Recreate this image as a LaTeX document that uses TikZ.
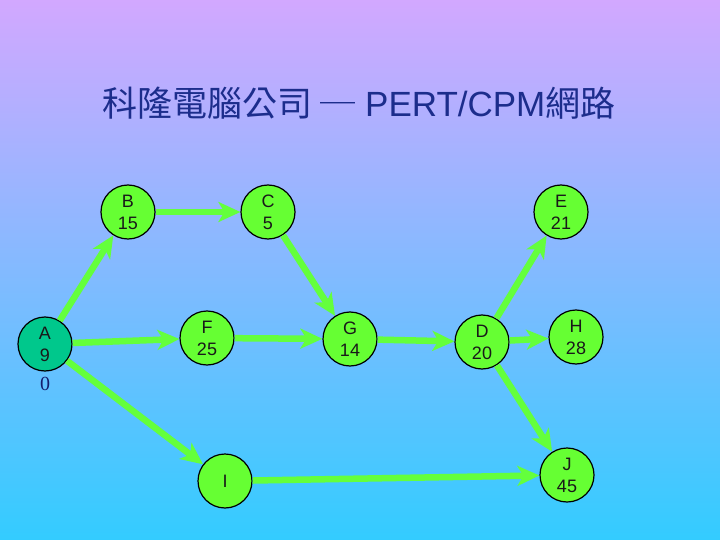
\documentclass[tikz,border=0pt]{standalone}
\usepackage{fontspec}
\setmainfont{Liberation Sans}
\newfontfamily\cjk{Noto Sans CJK TC}
\newfontfamily\tms{Liberation Serif}
\usetikzlibrary{arrows.meta}
\definecolor{bgtop}{RGB}{210,168,255}
\definecolor{bgbot}{RGB}{51,204,255}
\definecolor{nodegreen}{RGB}{102,255,51}
\definecolor{nodeteal}{RGB}{0,200,140}
\definecolor{arrgreen}{RGB}{100,255,60}
\definecolor{titleblue}{RGB}{28,45,140}
\definecolor{navy}{RGB}{20,30,110}
\tikzset{
  task/.style={circle, draw=black, line width=1.2pt, fill=nodegreen, minimum size=54pt, inner sep=0pt,
    align=center, font=\fontsize{18}{22}\selectfont, text=black!90},
  link/.style={draw=arrgreen, line width=6.5pt, -{Stealth[length=22pt,width=20pt,inset=6pt]}},
}
\begin{document}
\begin{tikzpicture}[x=1pt,y=-1pt]
\shade[top color=bgtop, bottom color=bgbot] (0,0) rectangle (720,540);
\useasboundingbox (0,0) rectangle (720,540);
\node[text=titleblue, font=\fontsize{35}{40}\selectfont] (title) at (359,103) {{\cjk 科隆電腦公司 ─} PERT/CPM{\cjk 網路}};
\node[task] (B) at (128,212) {B\\15};
\node[task] (C) at (268,212) {C\\5};
\node[task] (E) at (561,212) {E\\21};
\node[task, fill=nodeteal] (A) at (45,344) {A\\9};
\node[text=navy, font=\tms\fontsize{20}{22}\selectfont] (A0) at (45,384) {0};
\node[task] (F) at (207,338) {F\\25};
\node[task] (G) at (350,339) {G\\14};
\node[task] (D) at (482,342) {D\\20};
\node[task] (H) at (576,337) {H\\28};
\node[task] (I) at (225,481) {I};
\node[task] (J) at (567,475) {J\\45};
\draw[link] (A) -- (B);
\draw[link] (B) -- (C);
\draw[link] (A) -- (F);
\draw[link] (F) -- (G);
\draw[link] (C) -- (G);
\draw[link] (G) -- (D);
\draw[link] (D) -- (E);
\draw[link] (D) -- (H);
\draw[link] (D) -- (J);
\draw[link] (A) -- (I);
\draw[link] (I) -- (J);
\end{tikzpicture}
\end{document}
